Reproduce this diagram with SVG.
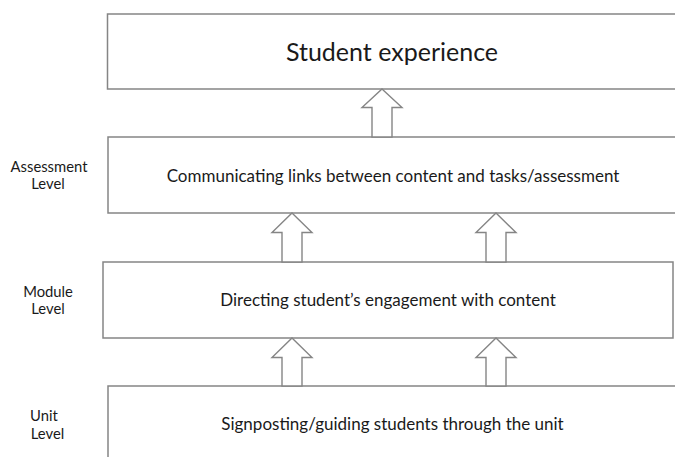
<svg xmlns="http://www.w3.org/2000/svg" width="675" height="457" viewBox="0 0 675 457">
<style>
.box{fill:#fff;stroke:#858585;stroke-width:1.5}
.arr{fill:#fff;stroke:#858585;stroke-width:1.4;stroke-linejoin:miter}
text{font-family:Lato,"Liberation Sans",sans-serif;fill:#1a1a1a;text-anchor:middle}
.t1{font-size:25px}
.t2{font-size:17px}
.lab{font-size:14.8px}
</style>
<rect width="675" height="457" fill="#fff"/>
<g id="student-experience">
<rect class="box" x="107.5" y="14" width="580" height="75"/>
<text class="t1" x="392" y="61">Student experience</text>
</g>
<g id="assessment-level">
<rect class="box" x="108" y="137" width="580" height="76"/>
<text class="t2" x="393" y="181.5">Communicating links between content and tasks/assessment</text>
<text class="lab" x="49" y="171.5">Assessment</text>
<text class="lab" x="48" y="189">Level</text>
</g>
<g id="module-level">
<rect class="box" x="103" y="262" width="570" height="76"/>
<text class="t2" x="388" y="305.5">Directing student’s engagement with content</text>
<text class="lab" x="48" y="297">Module</text>
<text class="lab" x="48" y="314">Level</text>
</g>
<g id="unit-level">
<rect class="box" x="108" y="386" width="580" height="90"/>
<text class="t2" x="392.5" y="430" font-size="16.8">Signposting/guiding students through the unit</text>
<text class="lab" x="44" y="421">Unit</text>
<text class="lab" x="47.5" y="439">Level</text>
</g>
<g id="connectors">
<polygon class="arr" points="382,89 402,107.5 392,107.5 392,137 372,137 372,107.5 362,107.5"/>
<polygon class="arr" points="292,213 312,232.5 302,232.5 302,262 282,262 282,232.5 272,232.5"/>
<polygon class="arr" points="496,213 516,232.5 506,232.5 506,262 486,262 486,232.5 476,232.5"/>
<polygon class="arr" points="292,338 312,357.5 302,357.5 302,386 282,386 282,357.5 272,357.5"/>
<polygon class="arr" points="496,338 516,357.5 506,357.5 506,386 486,386 486,357.5 476,357.5"/>
</g>
</svg>
